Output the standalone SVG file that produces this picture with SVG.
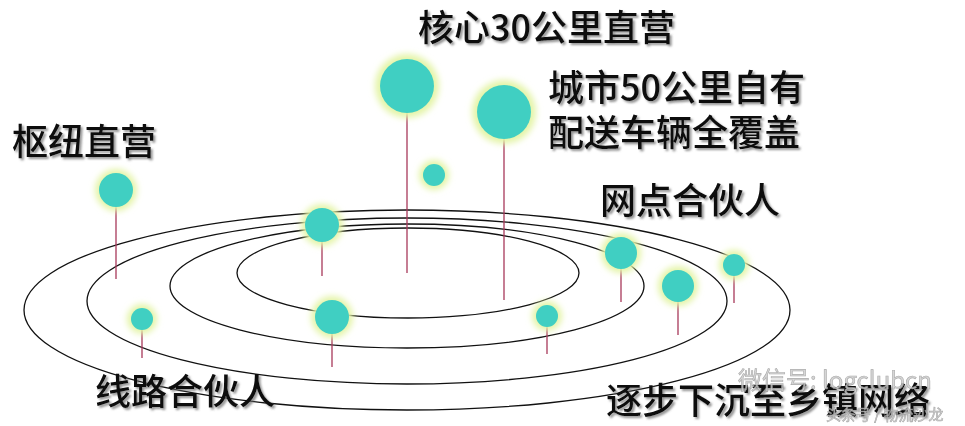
<svg xmlns="http://www.w3.org/2000/svg" width="965" height="426" viewBox="0 0 965 426">
<defs>
<filter id="glow" x="-60%" y="-60%" width="220%" height="220%">
<feGaussianBlur stdDeviation="3"/>
</filter>
<filter id="shadow" x="-10%" y="-30%" width="120%" height="160%">
<feDropShadow dx="2" dy="2" stdDeviation="1.2" flood-color="#666" flood-opacity="0.7"/>
</filter>
<style>
.orbit{fill:none;stroke:#111;stroke-width:1.3}
.stem{stroke:#a8385a;stroke-width:1.3}
.halo{fill:#e4f4a8;filter:url(#glow)}
.dot{fill:#40cfc2}
.lbl{font-family:"Noto Sans CJK SC","Noto Sans",sans-serif;font-size:36px;font-weight:500;fill:#0a0a0a;filter:url(#shadow)}
.wm{font-family:"Noto Sans CJK SC","Noto Sans",sans-serif;fill:#cfcfcf;stroke:#9a9a9a;stroke-width:0.6;opacity:0.85}
</style>
</defs>
<rect width="965" height="426" fill="#fff"/>
<g id="orbits">
<ellipse class="orbit" cx="407" cy="310" rx="383" ry="100"/>
<ellipse class="orbit" cx="407" cy="301" rx="320" ry="83"/>
<ellipse class="orbit" cx="407" cy="286" rx="237" ry="62"/>
<ellipse class="orbit" cx="408" cy="273" rx="171" ry="45"/>
</g>
<g id="connectors">
<line class="stem" x1="407" y1="100" x2="407" y2="273"/>
<line class="stem" x1="504" y1="125" x2="504" y2="300"/>
<line class="stem" x1="116" y1="200" x2="116" y2="279"/>
<line class="stem" x1="322" y1="235" x2="322" y2="276"/>
<line class="stem" x1="142" y1="325" x2="142" y2="358"/>
<line class="stem" x1="332" y1="327" x2="332" y2="367"/>
<line class="stem" x1="547" y1="322" x2="547" y2="354"/>
<line class="stem" x1="621" y1="263" x2="621" y2="302"/>
<line class="stem" x1="678" y1="296" x2="678" y2="335"/>
<line class="stem" x1="734" y1="272" x2="734" y2="303"/>
</g>
<g id="node-core"><circle class="halo" cx="407" cy="86" r="32"/><circle class="dot" cx="407" cy="86" r="27"/></g>
<g id="node-city"><circle class="halo" cx="504" cy="112" r="32"/><circle class="dot" cx="504" cy="112" r="27"/></g>
<g id="node-small-top"><circle class="halo" cx="434" cy="175" r="15"/><circle class="dot" cx="434" cy="175" r="11"/></g>
<g id="node-hub"><circle class="halo" cx="116" cy="190" r="21"/><circle class="dot" cx="116" cy="190" r="17"/></g>
<g id="node-a"><circle class="halo" cx="322" cy="225" r="21"/><circle class="dot" cx="322" cy="225" r="17"/></g>
<g id="node-b"><circle class="halo" cx="142" cy="319" r="15"/><circle class="dot" cx="142" cy="319" r="11"/></g>
<g id="node-c"><circle class="halo" cx="332" cy="317" r="21"/><circle class="dot" cx="332" cy="317" r="17"/></g>
<g id="node-d"><circle class="halo" cx="547" cy="316" r="15"/><circle class="dot" cx="547" cy="316" r="11"/></g>
<g id="node-e"><circle class="halo" cx="621" cy="253" r="20"/><circle class="dot" cx="621" cy="253" r="16"/></g>
<g id="node-f"><circle class="halo" cx="678" cy="286" r="20"/><circle class="dot" cx="678" cy="286" r="16"/></g>
<g id="node-g"><circle class="halo" cx="734" cy="265" r="15"/><circle class="dot" cx="734" cy="265" r="11"/></g>
<g id="labels">
<text class="lbl" x="418" y="41">核心30公里直营</text>
<text class="lbl" x="548" y="101">城市50公里自有</text>
<text class="lbl" x="548" y="146">配送车辆全覆盖</text>
<text class="lbl" x="12" y="155">枢纽直营</text>
<text class="lbl" x="600" y="214">网点合伙人</text>
<text class="lbl" x="95" y="405">线路合伙人</text>
<text class="lbl" x="606" y="414">逐步下沉至乡镇网络</text>
</g>
<g id="watermark">
<text class="wm" x="738" y="389" font-size="24">微信号: logclubcn</text>
<text class="wm" x="826" y="420" font-size="15" stroke-width="0.3">头条号 / 物流沙龙</text>
</g>
</svg>
